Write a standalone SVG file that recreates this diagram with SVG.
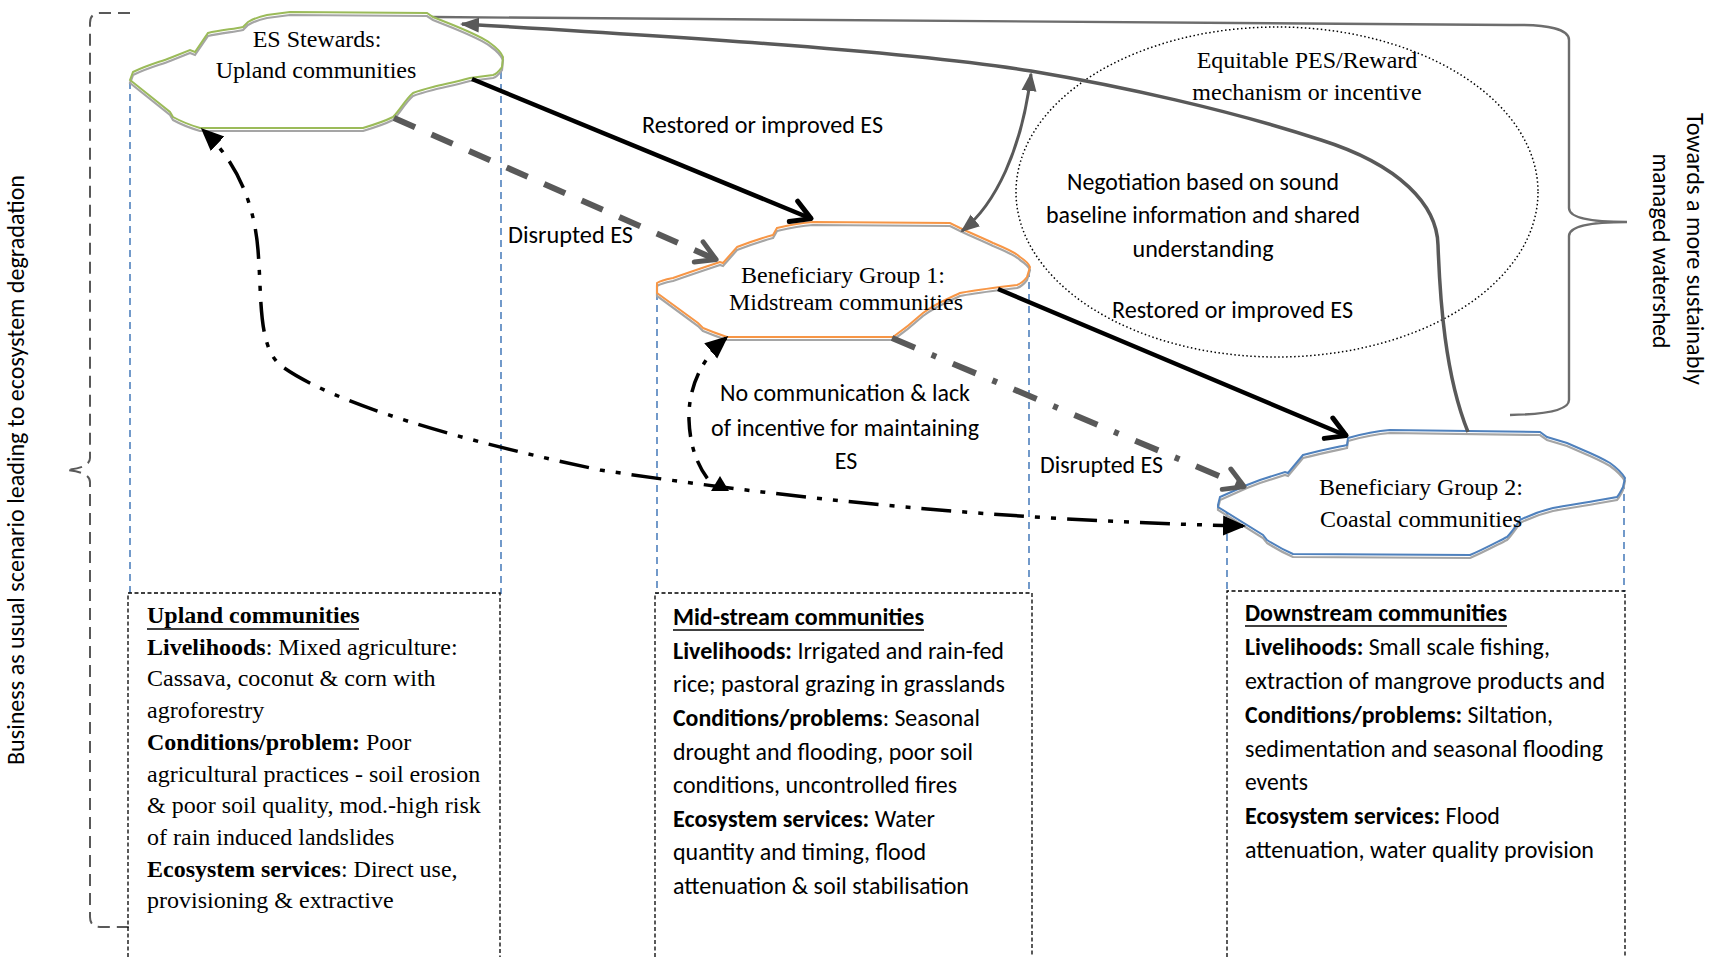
<svg xmlns="http://www.w3.org/2000/svg" xmlns:xlink="http://www.w3.org/1999/xlink" width="1720" height="957" viewBox="0 0 1720 957">
<style>
.ser{font-family:"Liberation Serif","Times New Roman",serif;font-size:24px;fill:#000}
.san{font-family:"Carlito","Lato","Liberation Sans",sans-serif;font-size:24px;fill:#000}
.b{font-weight:bold}
.guide{fill:none;stroke:#4f81bd;stroke-width:1.6;stroke-dasharray:7 5}
.box{fill:none;stroke:#000;stroke-width:1.3;stroke-dasharray:4 2.5}
.cfill{fill:#fff;stroke:none}
.cshadow{fill:none;stroke:#a5a5a5;stroke-width:2.2}
.ul{stroke:#000;stroke-width:1.6}
</style>
<defs>
<marker id="mOpenK" viewBox="-4 -15 30 30" refX="20" refY="0" markerWidth="30" markerHeight="30" markerUnits="userSpaceOnUse" orient="auto"><path d="M0,-11 L19,0 L0,11" fill="none" stroke="#000" stroke-width="5" stroke-linejoin="round" stroke-linecap="round"/></marker>
<marker id="mOpenG" viewBox="-4 -15 30 30" refX="20" refY="0" markerWidth="30" markerHeight="30" markerUnits="userSpaceOnUse" orient="auto"><path d="M0,-11 L19,0 L0,11" fill="none" stroke="#595959" stroke-width="5" stroke-linejoin="round" stroke-linecap="round"/></marker>
<marker id="mTriG" viewBox="0 -9 20 18" refX="17" refY="0" markerWidth="20" markerHeight="18" markerUnits="userSpaceOnUse" orient="auto-start-reverse"><path d="M0,-7.5 L19,0 L0,7.5 Z" fill="#595959"/></marker>
<marker id="mTriK" viewBox="0 -11 24 22" refX="20" refY="0" markerWidth="24" markerHeight="22" markerUnits="userSpaceOnUse" orient="auto-start-reverse"><path d="M0,-10 L23,0 L0,10 Z" fill="#000"/></marker>
<path id="c1" d="M130,80 L133,72 C150,64 160,62 170,58 L190,50 L195,52 L208,33 C220,30 235,29 243,27 L248,22 C255,18 262,16 267,15 L290,12 L427,13 L433,17 L453,25 C470,32 482,37 490,43 C497,48 501,52 503,57 L502,67 C499,71 497,74 493,75 L470,78 C455,82 445,84 433,87 C425,89 418,91 413,93 C405,100 400,110 393,117 C383,122 373,125 363,128 L200,128 C190,125 182,122 173,117 L170,112 Z"/>
<path id="c2" d="M657,283 C662,280 668,279 673,278 C690,272 705,267 720,262 L723,263 L737,247 C750,242 762,238 773,235 L777,228 C790,225 800,223 813,222 L950,223 L960,228 C975,235 985,239 993,243 C1005,248 1015,252 1020,257 C1026,261 1029,264 1030,267 L1027,277 C1024,281 1020,284 1017,285 L1000,287 C985,289 970,291 960,293 C945,300 933,305 923,313 C913,322 903,330 893,337 L727,337 C718,334 710,331 703,328 L698,323 L657,293 Z"/>
<path id="c3" d="M1218,505 L1220,497 L1247,485 L1260,480 L1285,472 L1288,473 L1303,455 C1318,451 1333,448 1347,445 L1348,438 C1362,434 1376,431 1390,430 L1540,432 L1547,437 L1567,443 L1583,450 C1595,455 1603,459 1610,463 C1617,468 1622,473 1625,478 L1623,487 C1621,491 1619,495 1617,497 L1600,500 C1585,503 1568,505 1553,508 C1540,511 1530,515 1520,520 C1515,527 1512,532 1507,537 C1495,543 1482,550 1470,555 L1293,554 C1284,550 1275,545 1267,540 L1263,535 L1218,507 Z"/>
</defs>
<rect width="1720" height="957" fill="#fff"/>

<!-- side brackets and labels -->
<g id="bracket-left">
<path d="M130,13 L100,13 Q90,13 90,23 L90,458 Q90,468 66,470 Q90,472 90,482 L90,917 Q90,927 100,927 L130,927" fill="none" stroke="#595959" stroke-width="2" stroke-dasharray="12 7"/>
<text class="san" font-size="20" transform="translate(24,470) rotate(-90)" text-anchor="middle" textLength="590" lengthAdjust="spacingAndGlyphs">Business as usual scenario leading to ecosystem degradation</text>
</g>
<g id="bracket-right">
<path d="M432,17 L1510,25 Q1569,24 1569,40 L1569,208 Q1569,222 1627,222 Q1569,222 1569,236 L1569,400 Q1569,414 1510,415" fill="none" stroke="#6d6d6d" stroke-width="2.4"/>
<text class="san" transform="translate(1687,249) rotate(90)" text-anchor="middle" textLength="272" lengthAdjust="spacingAndGlyphs">Towards a more sustainably</text>
<text class="san" transform="translate(1653,251) rotate(90)" text-anchor="middle" textLength="195" lengthAdjust="spacingAndGlyphs">managed watershed</text>
</g>

<!-- guides -->
<g id="guides">
<line class="guide" x1="130" y1="82" x2="130" y2="594"/>
<line class="guide" x1="501" y1="60" x2="501" y2="594"/>
<line class="guide" x1="657" y1="293" x2="657" y2="594"/>
<line class="guide" x1="1029" y1="270" x2="1029" y2="594"/>
<line class="guide" x1="1227" y1="510" x2="1227" y2="592"/>
<line class="guide" x1="1624" y1="482" x2="1624" y2="592"/>
</g>

<!-- PES ellipse -->
<g id="pes">
<ellipse cx="1277" cy="192" rx="261" ry="165" fill="none" stroke="#000" stroke-width="1.5" stroke-dasharray="1.5 2.5"/>
<text class="ser" x="1307" y="68" text-anchor="middle">Equitable PES/Reward</text>
<text class="ser" x="1307" y="100" text-anchor="middle">mechanism or incentive</text>
<text class="san" x="1203" y="190" text-anchor="middle" textLength="272" lengthAdjust="spacingAndGlyphs">Negotiation based on sound</text>
<text class="san" x="1203" y="223" text-anchor="middle" textLength="314" lengthAdjust="spacingAndGlyphs">baseline information and shared</text>
<text class="san" x="1203" y="257" text-anchor="middle" textLength="141" lengthAdjust="spacingAndGlyphs">understanding</text>
<text class="san" x="1112" y="318" textLength="241" lengthAdjust="spacingAndGlyphs">Restored or improved ES</text>
</g>

<!-- clouds -->
<g id="node-stewards">
<use xlink:href="#c1" class="cfill"/>
<use xlink:href="#c1" class="cshadow" transform="translate(0,3)"/>
<use xlink:href="#c1" fill="none" stroke="#9bbb59" stroke-width="2"/>
<text class="ser" x="317" y="47" text-anchor="middle">ES Stewards:</text>
<text class="ser" x="316" y="78" text-anchor="middle">Upland communities</text>
</g>
<g id="node-midstream">
<use xlink:href="#c2" class="cfill"/>
<use xlink:href="#c2" class="cshadow" transform="translate(0,3)"/>
<use xlink:href="#c2" fill="none" stroke="#f79646" stroke-width="2"/>
<text class="ser" x="843" y="283" text-anchor="middle">Beneficiary Group 1:</text>
<text class="ser" x="846" y="310" text-anchor="middle">Midstream communities</text>
</g>
<g id="node-coastal">
<use xlink:href="#c3" class="cfill"/>
<use xlink:href="#c3" class="cshadow" transform="translate(0,3)"/>
<use xlink:href="#c3" fill="none" stroke="#4f81bd" stroke-width="2"/>
<text class="ser" x="1421" y="495" text-anchor="middle">Beneficiary Group 2:</text>
<text class="ser" x="1421" y="527" text-anchor="middle">Coastal communities</text>
</g>

<!-- connectors -->
<g id="connectors">
<path d="M1468,432 C1445,375 1440,300 1438,245 C1437,205 1400,165 1321,140 C1230,110 1120,86 1031,71 C900,50 650,35 462,24" fill="none" stroke="#595959" stroke-width="3.5" marker-end="url(#mTriG)"/>
<path d="M962,231 C995,205 1022,150 1031,74" fill="none" stroke="#595959" stroke-width="3" marker-start="url(#mTriG)" marker-end="url(#mTriG)"/>
<line x1="472" y1="79" x2="812" y2="219" stroke="#000" stroke-width="4.5" marker-end="url(#mOpenK)"/>
<line x1="998" y1="289" x2="1347" y2="436" stroke="#000" stroke-width="4.5" marker-end="url(#mOpenK)"/>
<line x1="394" y1="118" x2="717" y2="260" stroke="#595959" stroke-width="6" stroke-dasharray="23 18" marker-end="url(#mOpenG)"/>
<line x1="892" y1="338" x2="1245" y2="487" stroke="#595959" stroke-width="6" stroke-dasharray="25 18 5 18" marker-end="url(#mOpenG)"/>
<path d="M1243,526 C1000,520 800,500 600,470 C420,432 320,395 280,365 C258,345 262,300 258,250 C254,200 235,160 203,130" fill="none" stroke="#000" stroke-width="3.5" stroke-dasharray="30 11 5 11 5 11" marker-start="url(#mTriK)" marker-end="url(#mTriK)"/>
<path d="M726,338 C700,360 688,390 689,420 C690,450 700,472 714,486" fill="none" stroke="#000" stroke-width="3.5" stroke-dasharray="20 10 5 10" marker-start="url(#mTriK)"/>
<polygon points="720,476 711,491 729,491" fill="#000"/>
<text class="san" x="642" y="133" textLength="241" lengthAdjust="spacingAndGlyphs">Restored or improved ES</text>
<text class="san" x="508" y="243" textLength="125" lengthAdjust="spacingAndGlyphs">Disrupted ES</text>
<text class="san" x="845" y="401" text-anchor="middle" textLength="250" lengthAdjust="spacingAndGlyphs">No communication &amp; lack</text>
<text class="san" x="845" y="436" text-anchor="middle" textLength="268" lengthAdjust="spacingAndGlyphs">of incentive for maintaining</text>
<text class="san" x="846" y="469" text-anchor="middle">ES</text>
<text class="san" x="1040" y="473" textLength="123" lengthAdjust="spacingAndGlyphs">Disrupted ES</text>
</g>

<!-- info boxes -->
<g id="box-upland">
<path class="box" d="M128,957 L128,593 L500,593 L500,957"/>
<text class="ser b" x="147" y="623">Upland communities</text>
<line class="ul" x1="147" y1="629" x2="359" y2="629"/>
<text class="ser" x="147" y="655"><tspan class="b">Livelihoods</tspan>: Mixed agriculture:</text>
<text class="ser" x="147" y="686">Cassava, coconut &amp; corn with</text>
<text class="ser" x="147" y="718">agroforestry</text>
<text class="ser" x="147" y="750"><tspan class="b">Conditions/problem:</tspan> Poor</text>
<text class="ser" x="147" y="782">agricultural practices - soil erosion</text>
<text class="ser" x="147" y="813">&amp; poor soil quality, mod.-high risk</text>
<text class="ser" x="147" y="845">of rain induced landslides</text>
<text class="ser" x="147" y="877"><tspan class="b">Ecosystem services</tspan>: Direct use,</text>
<text class="ser" x="147" y="908">provisioning &amp; extractive</text>
</g>
<g id="box-midstream">
<path class="box" d="M655,957 L655,593 L1032,593 L1032,957"/>
<text class="san b" x="673" y="625" textLength="251" lengthAdjust="spacingAndGlyphs">Mid-stream communities</text>
<line class="ul" x1="673" y1="630" x2="924" y2="630"/>
<text class="san" x="673" y="659" textLength="331" lengthAdjust="spacingAndGlyphs"><tspan class="b">Livelihoods:</tspan> Irrigated and rain-fed</text>
<text class="san" x="673" y="692" textLength="332" lengthAdjust="spacingAndGlyphs">rice; pastoral grazing in grasslands</text>
<text class="san" x="673" y="726" textLength="307" lengthAdjust="spacingAndGlyphs"><tspan class="b">Conditions/problems</tspan>: Seasonal</text>
<text class="san" x="673" y="760" textLength="300" lengthAdjust="spacingAndGlyphs">drought and flooding, poor soil</text>
<text class="san" x="673" y="793" textLength="284" lengthAdjust="spacingAndGlyphs">conditions, uncontrolled fires</text>
<text class="san" x="673" y="827" textLength="262" lengthAdjust="spacingAndGlyphs"><tspan class="b">Ecosystem services:</tspan> Water</text>
<text class="san" x="673" y="860" textLength="253" lengthAdjust="spacingAndGlyphs">quantity and timing, flood</text>
<text class="san" x="673" y="894" textLength="296" lengthAdjust="spacingAndGlyphs">attenuation &amp; soil stabilisation</text>
</g>
<g id="box-downstream">
<path class="box" d="M1227,957 L1227,591 L1625,591 L1625,957"/>
<text class="san b" x="1245" y="621" textLength="262" lengthAdjust="spacingAndGlyphs">Downstream communities</text>
<line class="ul" x1="1245" y1="626" x2="1507" y2="626"/>
<text class="san" x="1245" y="655" textLength="305" lengthAdjust="spacingAndGlyphs"><tspan class="b">Livelihoods:</tspan> Small scale fishing,</text>
<text class="san" x="1245" y="689" textLength="360" lengthAdjust="spacingAndGlyphs">extraction of mangrove products and</text>
<text class="san" x="1245" y="723" textLength="308" lengthAdjust="spacingAndGlyphs"><tspan class="b">Conditions/problems:</tspan> Siltation,</text>
<text class="san" x="1245" y="757" textLength="358" lengthAdjust="spacingAndGlyphs">sedimentation and seasonal flooding</text>
<text class="san" x="1245" y="790" textLength="63" lengthAdjust="spacingAndGlyphs">events</text>
<text class="san" x="1245" y="824" textLength="255" lengthAdjust="spacingAndGlyphs"><tspan class="b">Ecosystem services:</tspan> Flood</text>
<text class="san" x="1245" y="858" textLength="349" lengthAdjust="spacingAndGlyphs">attenuation, water quality provision</text>
</g>
</svg>
